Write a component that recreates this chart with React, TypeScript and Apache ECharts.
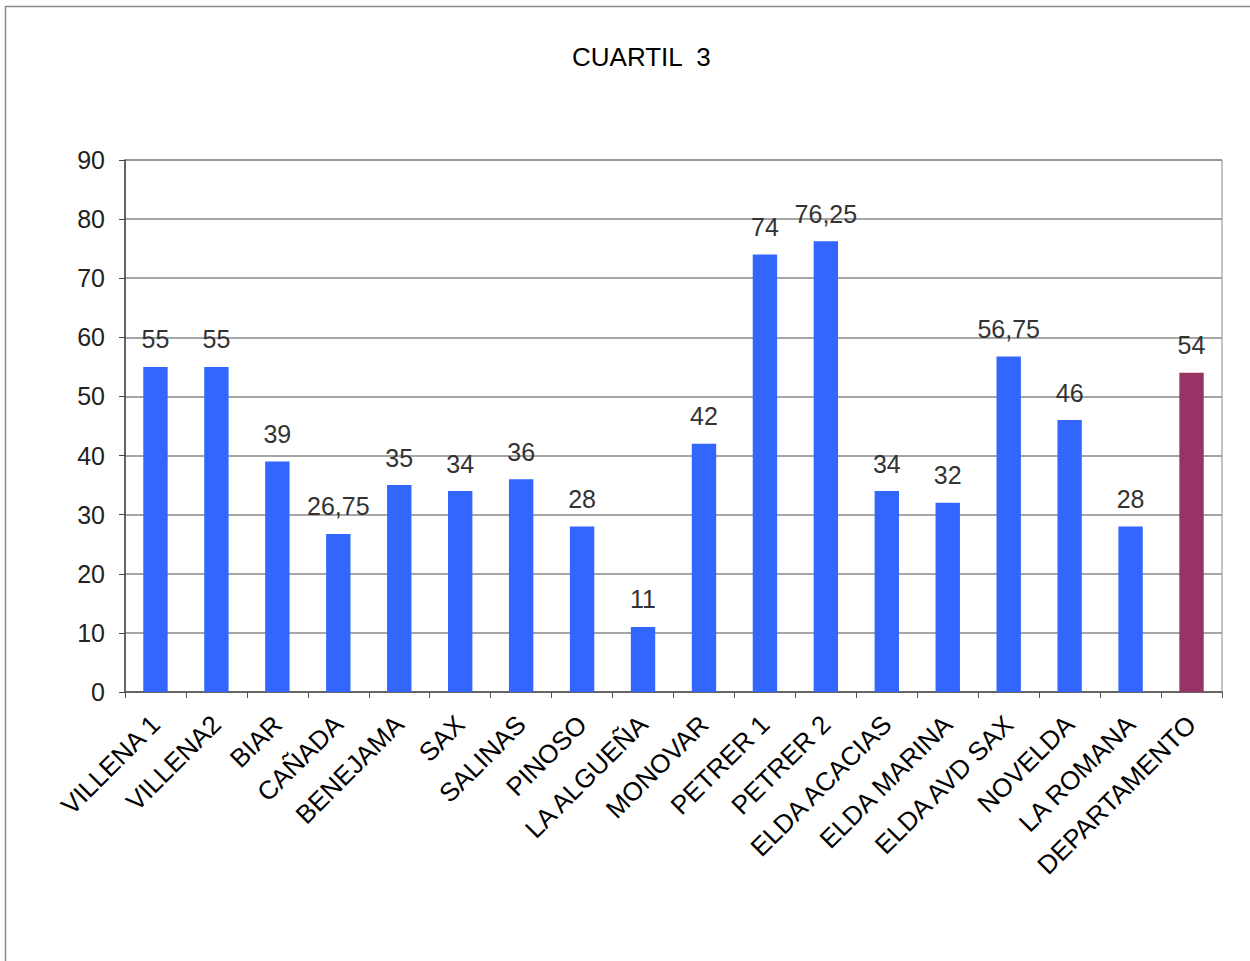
import React, { useEffect, useRef } from "react";
import * as echarts from "echarts";

const categories = [
  "VILLENA 1", "VILLENA2", "BIAR", "CAÑADA", "BENEJAMA", "SAX", "SALINAS", "PINOSO",
  "LA ALGUEÑA", "MONOVAR", "PETRER 1", "PETRER 2", "ELDA ACACIAS", "ELDA MARINA",
  "ELDA AVD SAX", "NOVELDA", "LA ROMANA", "DEPARTAMENTO",
];
const values = [55, 55, 39, 26.75, 35, 34, 36, 28, 11, 42, 74, 76.25, 34, 32, 56.75, 46, 28, 54];
const highlighted = "DEPARTAMENTO";
const yTicks = { min: 0, max: 90, interval: 10 };

const BLUE = "#3366FF";
const PLUM = "#993366";

export default function App() {
  const ref = useRef<HTMLDivElement>(null);

  useEffect(() => {
    if (!ref.current) return;
    const chart = echarts.init(ref.current, null, { renderer: "svg" });
    const font = "'Liberation Sans', Arial, sans-serif";
    chart.setOption({
      animation: false,
      backgroundColor: "#ffffff",
      title: {
        text: "CUARTIL  3",
        left: 567,
        top: 39,
        textStyle: { fontFamily: font, fontSize: 26, fontWeight: "normal", color: "#000" },
      },
      graphic: [
        {
          type: "rect",
          shape: { x: 5.5, y: 6.5, width: 1300, height: 1000 },
          style: { fill: "none", stroke: "#8a8a8a", lineWidth: 1.5 },
          silent: true,
        },
      ],
      grid: { left: 125, right: 28, top: 160, bottom: 269, show: true, borderColor: "#888", borderWidth: 1 },
      xAxis: {
        type: "category",
        data: categories,
        axisLine: { lineStyle: { color: "#555", width: 1.5 } },
        axisTick: { show: true, length: 6, alignWithLabel: false, lineStyle: { color: "#555" } },
        axisLabel: {
          rotate: 45,
          margin: 28,
          interval: 0,
          fontFamily: font,
          fontSize: 26,
          color: "#000",
        },
      },
      yAxis: {
        type: "value",
        min: yTicks.min,
        max: yTicks.max,
        interval: yTicks.interval,
        axisLine: { show: true, lineStyle: { color: "#444", width: 1.5 } },
        axisTick: { show: true, length: 6, lineStyle: { color: "#444" } },
        axisLabel: { fontFamily: font, fontSize: 25, color: "#222", margin: 20 },
        splitLine: { lineStyle: { color: "#888", width: 1.5 } },
      },
      series: [
        {
          type: "bar",
          barWidth: "40%",
          data: categories.map((c, i) => ({
            value: values[i],
            itemStyle: { color: c === highlighted ? PLUM : BLUE },
          })),
          label: {
            show: true,
            position: "top",
            distance: 15,
            fontFamily: font,
            fontSize: 25,
            color: "#333",
            formatter: (p: any) => String(p.value).replace(".", ","),
          },
        },
      ],
    });
    return () => chart.dispose();
  }, []);

  return (
    <div
      ref={ref}
      style={{ position: "fixed", left: 0, top: 0, width: 1250, height: 961 }}
    />
  );
}
